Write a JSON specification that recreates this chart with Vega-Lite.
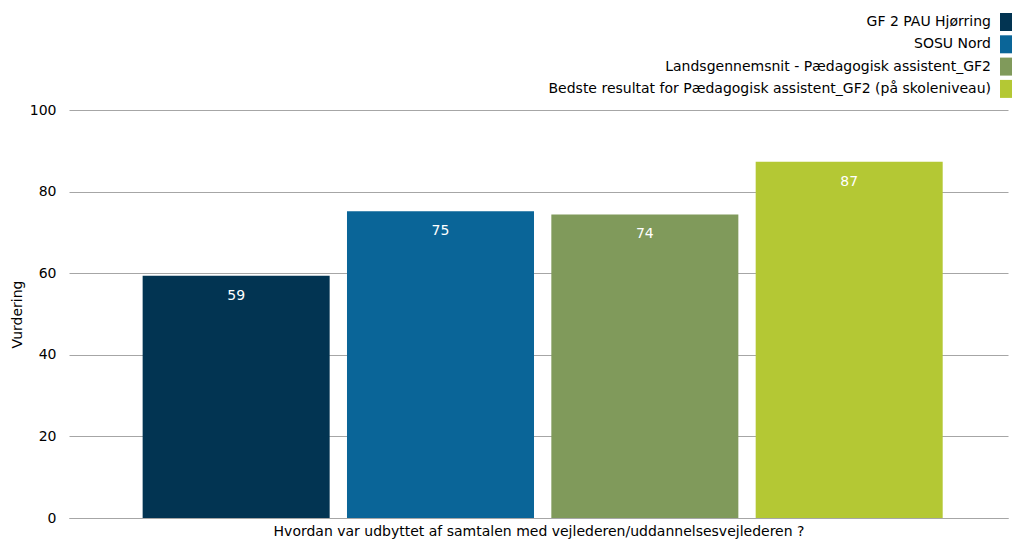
{
  "$schema": "https://vega.github.io/schema/vega-lite/v6.json",
  "autosize": {"type": "none"},
  "padding": {"left": 69, "top": 110, "right": 4, "bottom": 24},
  "width": 939,
  "height": 408,
  "background": "white",
  "config": {
    "font": "DejaVu Sans",
    "view": {"stroke": null},
    "axis": {"labelFont": "DejaVu Sans", "titleFont": "DejaVu Sans", "labelColor": "#000", "titleColor": "#000", "titleFontWeight": "normal"},
    "legend": {"labelFont": "DejaVu Sans"}
  },
  "data": {
    "values": [
      {"serie": "GF 2 PAU Hjørring", "vurdering": 59.4},
      {"serie": "SOSU Nord", "vurdering": 75.2},
      {"serie": "Landsgennemsnit - Pædagogisk assistent_GF2", "vurdering": 74.4},
      {"serie": "Bedste resultat for Pædagogisk assistent_GF2 (på skoleniveau)", "vurdering": 87.3}
    ]
  },
  "encoding": {
    "x": {
      "field": "serie",
      "type": "nominal",
      "sort": null,
      "scale": {"paddingInner": 0.0848, "paddingOuter": 0.34, "align": 0.53},
      "axis": {
        "labels": false,
        "ticks": false,
        "domain": true,
        "domainColor": "#a6a6a6",
        "title": "Hvordan var udbyttet af samtalen med vejlederen/uddannelsesvejlederen ?",
        "titleFontSize": 14,
        "titlePadding": 6
      }
    },
    "y": {
      "field": "vurdering",
      "type": "quantitative",
      "scale": {"domain": [0, 100], "nice": false},
      "axis": {
        "values": [0, 20, 40, 60, 80, 100],
        "title": "Vurdering",
        "titleFontSize": 14,
        "labelFontSize": 14,
        "labelPadding": 13,
        "titlePadding": 5,
        "ticks": false,
        "domain": false,
        "gridColor": "#a6a6a6",
        "gridWidth": 1
      }
    }
  },
  "layer": [
    {
      "mark": {"type": "bar"},
      "encoding": {
        "color": {
          "field": "serie",
          "type": "nominal",
          "sort": null,
          "scale": {
            "domain": ["GF 2 PAU Hjørring", "SOSU Nord", "Landsgennemsnit - Pædagogisk assistent_GF2", "Bedste resultat for Pædagogisk assistent_GF2 (på skoleniveau)"],
            "range": ["#023452", "#0a6598", "#809a5b", "#b4c834"]
          },
          "legend": {
            "title": null,
            "orient": "none",
            "legendX": 928,
            "legendY": -97,
            "padding": 0,
            "direction": "vertical",
            "symbolType": "M-0.67,-1H0.67V1H-0.67Z",
            "symbolSize": 324,
            "symbolStrokeWidth": 0,
            "symbolOpacity": 1,
            "labelFontSize": 14,
            "labelColor": "#000",
            "labelAlign": "right",
            "labelOffset": -24,
            "labelLimit": 0,
            "rowPadding": 4.3
          }
        }
      }
    },
    {
      "mark": {"type": "text", "color": "white", "baseline": "top", "dy": 13, "fontSize": 14},
      "encoding": {
        "text": {"field": "vurdering", "type": "quantitative", "format": ".0f"}
      }
    }
  ]
}
